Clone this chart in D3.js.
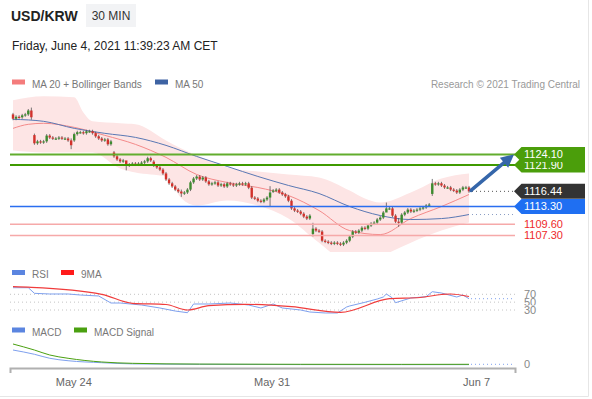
<!DOCTYPE html>
<html>
<head>
<meta charset="utf-8">
<script src="https://cdn.jsdelivr.net/npm/d3@7"></script>
<style>
  body { margin: 0; background: #fff; }
  svg { display: block; font-family: "Liberation Sans", Arial, sans-serif; }
</style>
</head>
<body>
<svg id="chart" width="592" height="399"></svg>
<script>
// ---- data (30 min bars, USD/KRW) ----
const dayStarts = [0, 7, 20, 33, 46, 59, 72, 85, 98, 111, 124, 137];
const dayOpens = [1132.4, 1128.1, 1127.0, 1124.5, 1122.6, 1118.3, 1117.9, 1116.4, 1107.6, 1107.05, 1112.9, 1115.9];
const closes = [
  1131.5, 1131.9, 1131.8, 1132.2, 1132.4, 1133.2, 1131.8,
  1126.4, 1126.8, 1126.6, 1126.8, 1128.0, 1127.6, 1127.4, 1127.4, 1127.6, 1127.4, 1127.4, 1127.0, 1126.0,
  1128.3, 1128.7, 1128.7, 1128.5, 1128.9, 1128.9, 1128.5, 1127.85, 1127.4, 1127.0, 1127.2, 1126.2, 1126.8,
  1123.7, 1123.05, 1122.65, 1122.85, 1121.8, 1122.0, 1122.2, 1122.0, 1122.2, 1122.4, 1122.65, 1123.3, 1122.85,
  1121.8, 1121.4, 1120.95, 1120.15, 1118.9, 1118.1, 1117.45, 1116.8, 1116.4, 1116.0, 1116.2, 1116.8, 1118.3,
  1119.1, 1119.5, 1118.9, 1119.3, 1118.5, 1117.9, 1118.1, 1118.3, 1117.65, 1117.9, 1117.45, 1118.1, 1117.9,
  1117.65, 1117.9, 1118.1, 1117.9, 1118.1, 1117.2, 1115.15, 1114.95, 1114.5, 1114.3, 1114.75, 1115.15, 1116.2,
  1116.6, 1116.8, 1116.2, 1115.8, 1115.4, 1114.5, 1112.9, 1112.45, 1112.25, 1111.8, 1111.2, 1110.8, 1111.4,
  1108.7, 1108.3, 1108.1, 1106.2, 1106.0, 1105.8, 1105.6, 1105.8, 1105.6, 1105.4, 1105.8, 1106.2, 1107.05,
  1108.1, 1107.9, 1108.3, 1108.9, 1108.7, 1109.35, 1109.75, 1109.95, 1110.6, 1111.0, 1112.05, 1112.9, 1112.9,
  1111.4, 1110.15, 1109.95, 1111.6, 1112.05, 1112.65, 1112.25, 1112.45, 1112.65, 1112.9, 1113.1, 1113.5, 1113.7,
  1118.1, 1117.9, 1118.1, 1117.65, 1117.25, 1117.25, 1116.8, 1116.6, 1116.2, 1116.8, 1117.25, 1117.25, 1116.44
];
// long wicks worth drawing: index -> [high, low]
const wicks = {
  6: [1133.5, 1131.6], 19: [1127.1, 1125.5], 37: [1122.3, 1121.1], 55: [1116.5, 1115.6],
  84: [1117.2, 1113.7], 98: [1109.6, 1107.4], 122: [1113.8, 1112.7], 126: [1110.6, 1109.4],
  137: [1118.7, 1115.8]
};

const ma20Idx = [0, 5, 10, 20, 30, 40, 50, 60, 70, 80, 90, 100, 110, 120, 130, 140, 149];
const ma20Val = [1129.5, 1130.34, 1130.55, 1129.71, 1128.05, 1126.18, 1123.48, 1119.94, 1118.28, 1117.24,
  1115.58, 1112.46, 1108.3, 1107.47, 1110.8, 1113.29, 1115.78];

const bbIdx = [0, 10, 20, 23, 26, 35, 40, 50, 55, 60, 70, 80, 90, 100, 110, 115, 120, 130, 140, 149];
const bbUpper = [1135.33, 1136.16, 1135.95, 1132.8, 1130.96, 1130.55, 1130.34, 1127.0, 1125.3, 1123.9,
  1121.4, 1120.57, 1119.94, 1119.32, 1116.6, 1114.95, 1114.12, 1116.2, 1119.1, 1120.15];
const bbLower = [1124.93, 1124.52, 1124.52, 1124.52, 1124.52, 1121.2, 1120.36, 1119.5, 1115.0, 1113.5,
  1114.54, 1113.5, 1110.8, 1105.8, 1101.65, 1101.65, 1102.9, 1105.8, 1108.3, 1110.0];

const ma50Idx = [0, 10, 20, 30, 40, 50, 60, 70, 80, 90, 100, 110, 120, 130, 140, 149];
const ma50Val = [1131.38, 1130.96, 1129.5, 1128.47, 1127.63, 1125.97, 1123.68, 1121.6, 1119.53, 1117.66,
  1115.99, 1113.29, 1111.42, 1110.59, 1110.79, 1111.63];

const rsiIdx = [0, 5, 7, 12, 18, 22, 28, 32, 35, 42, 48, 53, 57, 59, 64, 71, 77, 81, 85, 88, 94, 97, 102,
  106, 109, 110, 115, 119, 121, 122, 124, 125, 130, 135, 137, 140, 145, 147, 149];
const rsiVal = [86.8, 86.8, 72.5, 70.8, 70.8, 68.2, 65.7, 47.8, 47.8, 42.7, 35.1, 27.4, 23.1, 45.3, 45.3,
  47.8, 42.7, 35.1, 45.3, 35.1, 30.0, 24.9, 22.4, 22.4, 37.6, 40.2, 49.6, 58.0, 63.1, 70.8, 60.6, 48.6,
  60.6, 63.9, 76.6, 73.3, 63.1, 68.2, 58.8];
const rsiMaIdx = [0, 6, 29, 39, 50, 57, 64, 76, 91, 107, 123, 133, 140, 143, 149];
const rsiMaVal = [89.4, 87.8, 70.0, 47.1, 44.0, 30.0, 40.9, 44.5, 38.4, 24.1, 58.8, 61.8, 69.5, 70.8, 64.4];
const rsiLevels = [70, 50, 30];

const macdIdx = [0, 7, 12, 18, 29, 39, 61, 94, 127, 149];
const macdVal = [2.04, 1.43, 0.86, 0.51, 0.23, 0.06, 0.0, -0.04, -0.05, -0.05];
const signalVal = [2.9, 2.04, 1.33, 0.86, 0.33, 0.14, 0.03, 0.0, -0.01, 0.0];

const tickIdx = [19.7, 84.5, 151.3];
const tickLabels = ['May 24', 'May 31', 'Jun 7'];

const levels = [
  { v: 1121.90, line: '#3f9a00', tag: '#4b9e0b', txt: '#fff' },
  { v: 1124.10, line: '#62ad2e', tag: '#4b9e0b', txt: '#fff' },
  { v: 1116.44, line: null, tag: '#333333', txt: '#fff' },
  { v: 1113.30, line: '#2a6ef0', tag: '#1f6ff2', txt: '#fff' },
  { v: 1109.60, line: '#f6a9a9', tag: null, txt: '#ee2a2a' },
  { v: 1107.30, line: '#f6a9a9', tag: null, txt: '#ee2a2a' },
];

// ---- layout ----
const plotL = 10, plotR = 515;
const N = closes.length;
const svg = d3.select('#chart');
const x = d3.scaleLinear().domain([0, N - 1]).range([13, 469]);
const y = d3.scaleLinear().domain([1107.30, 1124.10]).range([235.4, 154.4]);
const yRsi = d3.scaleLinear().domain([30, 70]).range([310, 294.3]);
const yMacd = d3.scaleLinear().domain([0, 2.9]).range([364.3, 344]);

svg.append('rect').attr('width', 592).attr('height', 399).attr('fill', '#fff');
svg.append('path').attr('d', 'M588.5,0V396.5H0').attr('fill', 'none').attr('stroke', '#e6e6e6');

// header
svg.append('text').attr('x', 11).attr('y', 21).attr('font-size', 14).attr('font-weight', 'bold')
  .attr('fill', '#222').text('USD/KRW');
svg.append('rect').attr('x', 86).attr('y', 4).attr('width', 50).attr('height', 23).attr('fill', '#f2f3f5');
svg.append('text').attr('x', 111).attr('y', 20).attr('text-anchor', 'middle').attr('font-size', 12)
  .attr('fill', '#333').text('30 MIN');
svg.append('text').attr('x', 12).attr('y', 50).attr('font-size', 12).attr('fill', '#222')
  .text('Friday, June 4, 2021 11:39:23 AM CET');

function legend(items, yy) {
  items.forEach(([lx, color, label]) => {
    svg.append('rect').attr('x', lx).attr('y', yy - 4.5).attr('width', 13).attr('height', 5).attr('fill', color);
    svg.append('text').attr('x', lx + 20).attr('y', yy + 3.5).attr('font-size', 10).attr('fill', '#777').text(label);
  });
}
legend([[12, '#f47c7c', 'MA 20 + Bollinger Bands'], [155, '#3e63a3', 'MA 50']], 84);
svg.append('text').attr('x', 580).attr('y', 87.5).attr('text-anchor', 'end').attr('font-size', 10)
  .attr('fill', '#999').text('Research \u00a9 2021 Trading Central');

// ---- price panel ----
svg.append('clipPath').attr('id', 'pclip').append('rect')
  .attr('x', plotL).attr('y', 92).attr('width', plotR - plotL).attr('height', 160);
const pg = svg.append('g').attr('clip-path', 'url(#pclip)');

const bb = bbIdx.map((d, k) => ({ i: d, hi: bbUpper[k], lo: bbLower[k] }));
pg.append('path').datum(bb)
  .attr('d', d3.area().x(d => x(d.i)).y0(d => y(d.lo)).y1(d => y(d.hi)).curve(d3.curveMonotoneX))
  .attr('fill', '#fde5e5');

const smooth = (ix, vals, sy) => d3.line().x(d => x(d)).y((d, k) => sy(vals[k])).curve(d3.curveMonotoneX)(ix);
pg.append('path').attr('d', smooth(ma20Idx, ma20Val, y)).attr('fill', 'none').attr('stroke', '#f48a8a').attr('stroke-width', 1);
pg.append('path').attr('d', smooth(ma50Idx, ma50Val, y)).attr('fill', 'none').attr('stroke', '#5a78b4').attr('stroke-width', 1);

levels.filter(l => l.line).forEach(l => {
  svg.append('line').attr('x1', plotL).attr('x2', plotR).attr('y1', y(l.v)).attr('y2', y(l.v))
    .attr('stroke', l.line).attr('stroke-width', l.tag ? (l.v > 1120 ? 2 : 1.4) : 1.5);
});

const bars = closes.map((c, i) => {
  const k = dayStarts.indexOf(i);
  const o = k >= 0 ? dayOpens[k] : closes[i - 1];
  const w = wicks[i];
  return { i, o, c, hi: w ? w[0] : Math.max(o, c), lo: w ? w[1] : Math.min(o, c) };
});
const cg = pg.append('g');
cg.selectAll('line.wick').data(bars).join('line').attr('class', 'wick')
  .attr('x1', d => x(d.i)).attr('x2', d => x(d.i))
  .attr('y1', d => y(d.hi) - 1.5).attr('y2', d => y(d.lo) + 1.5)
  .attr('stroke', '#555').attr('stroke-width', 0.8);
cg.selectAll('rect.body').data(bars).join('rect').attr('class', 'body')
  .attr('x', d => x(d.i) - 1.2).attr('width', 2.4)
  .attr('y', d => y(Math.max(d.o, d.c)))
  .attr('height', d => Math.max(1.2, Math.abs(y(d.o) - y(d.c))))
  .attr('fill', d => d.c >= d.o ? '#3d8b2f' : '#d2312b');

// dotted extensions
const last = bars[N - 1];
const dotted = (yy, color) => svg.append('line').attr('x1', x(N - 1) + 3).attr('x2', plotR - 2)
  .attr('y1', yy).attr('y2', yy).attr('stroke', color).attr('stroke-width', 1).attr('stroke-dasharray', '1,3');
dotted(y(last.c), '#555');
dotted(y(ma50Val[ma50Val.length - 1]), '#8a9cc4');

// arrow
const S = [x(N - 1) + 2, y(last.c) - 1], T = [plotR - 1, y(1124.10)];
const dx = T[0] - S[0], dy = T[1] - S[1], len = Math.hypot(dx, dy);
const u = [dx / len, dy / len], nrm = [-u[1], u[0]];
const B = [T[0] - 13 * u[0], T[1] - 13 * u[1]];
svg.append('line').attr('x1', S[0]).attr('y1', S[1]).attr('x2', B[0] + 2 * u[0]).attr('y2', B[1] + 2 * u[1])
  .attr('stroke', '#3566aa').attr('stroke-width', 3.5).attr('stroke-linecap', 'round');
svg.append('path').attr('fill', '#3566aa')
  .attr('d', `M${T[0]},${T[1]}L${B[0] + 6.5 * nrm[0]},${B[1] + 6.5 * nrm[1]}L${B[0] - 6.5 * nrm[0]},${B[1] - 6.5 * nrm[1]}Z`);

// price tags
levels.forEach(l => {
  const yy = y(l.v);
  if (l.tag) {
    svg.append('path').attr('fill', l.tag)
      .attr('d', `M${plotR - 1},${yy}L${plotR + 6.5},${yy - 7.5}H585V${yy + 7.5}H${plotR + 6.5}Z`);
  }
  svg.append('text').attr('x', 524).attr('y', yy).attr('dy', '0.36em').attr('font-size', 11)
    .attr('fill', l.txt).text(l.v.toFixed(2));
});

// ---- RSI panel ----
legend([[12, '#5b85e0', 'RSI'], [61, '#ff1a1a', '9MA']], 274.5);
rsiLevels.forEach(v => {
  svg.append('line').attr('x1', plotL).attr('x2', plotR).attr('y1', yRsi(v)).attr('y2', yRsi(v))
    .attr('stroke', '#c4c4c4').attr('stroke-dasharray', '1,3');
});
rsiLevels.forEach(v => {
  if (v === 30) svg.append('rect').attr('x', 522).attr('y', yRsi(v) - 4.5).attr('width', 16).attr('height', 10).attr('fill', '#fff');
  svg.append('text').attr('x', 524).attr('y', yRsi(v)).attr('dy', '0.36em').attr('font-size', 11)
    .attr('fill', '#888').text(v);
});
svg.append('path').attr('d', d3.line().x(d => x(d)).y((d, k) => yRsi(rsiVal[k]))(rsiIdx))
  .attr('fill', 'none').attr('stroke', '#7ea0ee').attr('stroke-width', 1);
svg.append('path').attr('d', smooth(rsiMaIdx, rsiMaVal, yRsi))
  .attr('fill', 'none').attr('stroke', '#f03c3c').attr('stroke-width', 1.2);
svg.append('line').attr('x1', x(N - 1) + 2).attr('x2', plotR - 2)
  .attr('y1', yRsi(rsiVal[rsiVal.length - 1])).attr('y2', yRsi(rsiVal[rsiVal.length - 1]))
  .attr('stroke', '#7ea0ee').attr('stroke-dasharray', '1,3');

// ---- MACD panel ----
legend([[12, '#5b85e0', 'MACD'], [74, '#4aa010', 'MACD Signal']], 332);
svg.append('path').attr('d', smooth(macdIdx, macdVal, yMacd))
  .attr('fill', 'none').attr('stroke', '#7ea0ee').attr('stroke-width', 1);
svg.append('path').attr('d', smooth(macdIdx, signalVal, yMacd))
  .attr('fill', 'none').attr('stroke', '#4aa010').attr('stroke-width', 1);
svg.append('line').attr('x1', x(N - 1) + 2).attr('x2', plotR - 2)
  .attr('y1', yMacd(0)).attr('y2', yMacd(0)).attr('stroke', '#7ea0ee').attr('stroke-dasharray', '1,3');
svg.append('text').attr('x', 524).attr('y', yMacd(0)).attr('dy', '0.36em').attr('font-size', 11)
  .attr('fill', '#888').text('0');

// ---- time axis ----
const xAxisScale = d3.scaleLinear().domain([x.invert(plotL), x.invert(plotR)]).range([plotL, plotR]);
const ax = svg.append('g').attr('transform', 'translate(0,368)')
  .call(d3.axisBottom(xAxisScale).tickValues(tickIdx).tickSizeInner(0).tickSizeOuter(5).tickPadding(10)
    .tickFormat((d, k) => tickLabels[k]));
ax.select('.domain').attr('stroke', '#b0b0b0').attr('stroke-width', 2);
ax.selectAll('text').attr('font-size', 11).attr('fill', '#666').attr('font-family', '"Liberation Sans", Arial, sans-serif');
</script>
</body>
</html>
